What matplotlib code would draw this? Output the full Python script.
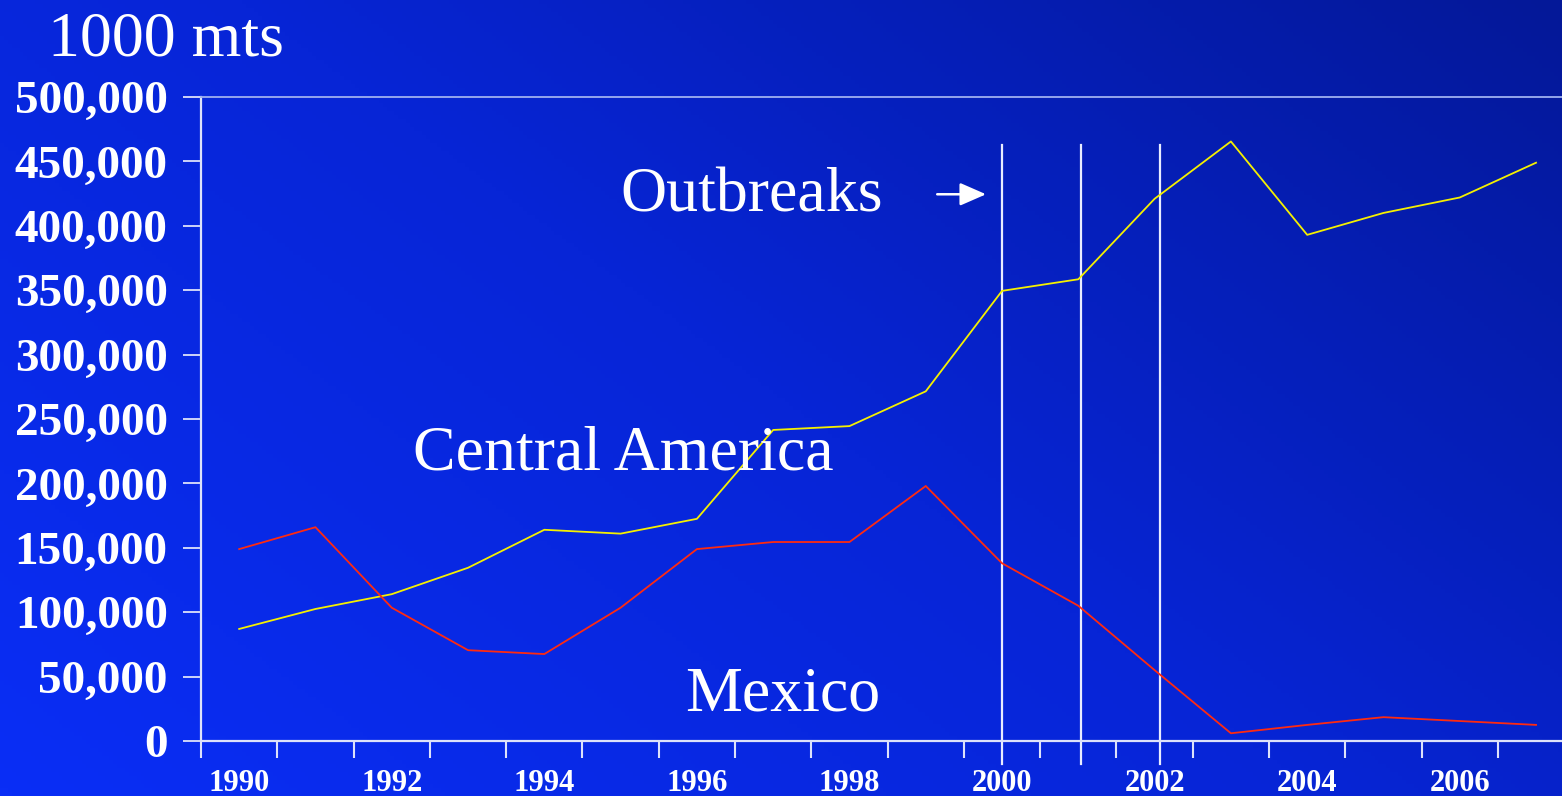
import numpy as np
import matplotlib.pyplot as plt
from matplotlib.colors import LinearSegmentedColormap

# data (1000 metric tons)
years = list(range(1990, 2008))
central_america = [87000, 102500, 114000, 134500, 164000, 161000, 172500, 241500, 244500, 271500,
                   349500, 358500, 421000, 465500, 393000, 410000, 422000, 449000]
mexico = [149000, 166000, 103500, 70500, 67500, 103500, 149000, 154500, 154500, 198000,
          138000, 105000, 55000, 6000, 12500, 18500, 15500, 12500]
outbreak_years = [2000, 2001.03, 2002.07]
ytick_vals = [0, 50000, 100000, 150000, 200000, 250000, 300000, 350000, 400000, 450000, 500000]
xtick_labels = [str(y) if y % 2 == 0 else '' for y in years]

serif = ['Liberation Serif', 'DejaVu Serif']
fig = plt.figure(figsize=(15.62, 7.96), dpi=100)

# diagonal background gradient, bright bottom-left to dark top-right
bg = fig.add_axes([0, 0, 1, 1], zorder=0)
bg.axis('off')
cmap = LinearSegmentedColormap.from_list('slide', ['#0a2ef6', '#0725d6', '#041898'])
gx, gy = np.meshgrid(np.linspace(0, 1, 400), np.linspace(0, 1, 200))
grad = (gx * 0.65 + gy * 0.45) / 1.1
bg.imshow(grad, cmap=cmap, aspect='auto', origin='lower', extent=[0, 1, 0, 1])
bg.set_xlim(0, 1)
bg.set_ylim(0, 1)

ax = fig.add_axes([0.1287, 0.0691, 0.8713, 0.809], zorder=1)
ax.patch.set_alpha(0)
ax.plot(years, central_america, color='#f5f000', lw=1.3, zorder=3)
ax.plot(years, mexico, color='#ff2a10', lw=1.3, zorder=3)

ax.set_xlim(1989.5, 2007.34)
ax.set_ylim(0, 500000)

axcol = '#dde2fa'
ax.spines['right'].set_visible(False)
ax.spines['top'].set_color('#9fb0f0')
ax.spines['top'].set_linewidth(1.3)
for s in ['left', 'bottom']:
    ax.spines[s].set_color(axcol)
    ax.spines[s].set_linewidth(1.6)

ax.set_yticks(ytick_vals)
ax.set_yticklabels([f'{v:,}' for v in ytick_vals])
ax.set_xticks([y - 0.5 for y in years])
ax.set_xticklabels([])
ax.set_xticks(years, minor=True)
ax.set_xticklabels(xtick_labels, minor=True)
ax.tick_params(axis='x', which='major', length=12, width=1.5, color=axcol, direction='out')
ax.tick_params(axis='x', which='minor', length=0, pad=20)
ax.tick_params(axis='y', length=13, width=1.3, color=axcol, direction='out', pad=11)
for lab in ax.get_yticklabels():
    lab.set_fontfamily(serif)
    lab.set_fontweight('bold')
    lab.set_fontsize(34)
    lab.set_color('white')
for lab in ax.get_xticklabels(minor=True):
    lab.set_fontfamily(serif)
    lab.set_fontweight('bold')
    lab.set_fontsize(22)
    lab.set_color('white')

# outbreak markers
trans = ax.get_xaxis_transform()
for xv in outbreak_years:
    ax.plot([xv, xv], [-0.036, 0.925], transform=trans, color='#e8ecff', lw=1.6,
            clip_on=False, zorder=2)

ax.annotate('', xy=(1999.79, 0.849), xytext=(1999.15, 0.849), xycoords=trans,
            arrowprops=dict(arrowstyle='-|>,head_length=1.6,head_width=0.7', color='white',
                            lw=1.8, shrinkA=0, shrinkB=0))

txt = dict(color='white', family=serif, fontsize=46, va='baseline')
ax.text(1995.0, 411000, 'Outbreaks', **txt)
ax.text(1992.28, 211000, 'Central America', **txt)
ax.text(1995.85, 24000, 'Mexico', **txt)
fig.text(48 / 1562, 1 - 55 / 796, '1000 mts', **txt)

fig.savefig('out.png', dpi=100)
